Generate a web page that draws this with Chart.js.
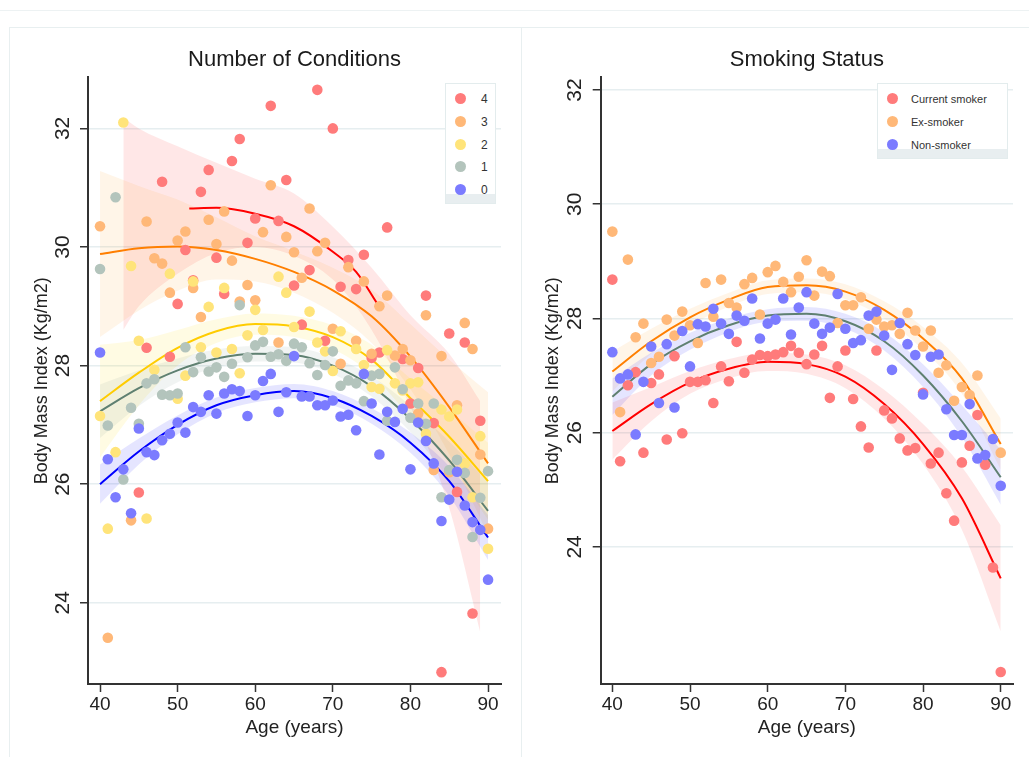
<!DOCTYPE html>
<html>
<head>
<meta charset="utf-8">
<script src="https://cdn.jsdelivr.net/npm/chart.js@4.4.1/dist/chart.umd.min.js"></script>
<style>
  body { margin: 0; background: #fff; font-family: "Liberation Sans", Arial, sans-serif; }
  #rule { position: absolute; left: 0; top: 10px; width: 1029px; border-top: 1px solid #edf2f3; }
  .panel { position: absolute; top: 27px; height: 760px; border: 1px solid #e8eff0; }
  .wrap { position: absolute; top: 28px; height: 729px; }
  .legend { position: absolute; background: #fff; border: 1px solid #e3eced; box-sizing: border-box; }
  .legend .strip { position: absolute; left: 0; right: 0; bottom: 0; height: 9px; background: #e8eef0; }
  .legend .item { position: absolute; left: 0; height: 14px; font-size: 12px; color: #333; line-height: 14px; }
  .legend .dot { position: absolute; width: 11px; height: 11px; border-radius: 50%; top: 1px; }
</style>
</head>
<body>
<div id="rule"></div>
<div class="panel" style="left:9px;width:511px;"></div>
<div class="panel" style="left:521px;width:520px;"></div>
<div class="wrap" style="left:10px;width:510px;"><canvas id="graficoCondicoes"></canvas></div>
<div class="wrap" style="left:522px;width:507px;"><canvas id="graficoFumo"></canvas></div>
<div id="legendaCondicoes" class="legend" style="left:445px;top:83px;width:51px;height:121px;"><div class="strip"></div></div>
<div id="legendaFumo" class="legend" style="left:877px;top:83px;width:131px;height:76px;"><div class="strip"></div></div>
<script>
// ---------- common axis values ----------
const idades = [40,41,42,43,44,45,46,47,48,49,50,51,52,53,54,55,56,57,58,59,60,61,62,63,64,65,
                66,67,68,69,70,71,72,73,74,75,76,77,78,79,80,81,82,83,84,85,86,87,88,89,90];
const idadesAjuste = [40,45,50,55,60,65,70,75,80,85,90];
const ticksX = [40,50,60,70,80,90];
const ticksY = [24,26,28,30,32];

// ---------- Number of Conditions ----------
const condicoes = ['0','1','2','3','4'];
const imc0 = [28.22,26.42,25.78,26.25,25.51,26.94,26.54,26.49,26.74,26.85,27.04,26.87,27.30,27.22,27.50,27.19,27.53,27.60,27.57,27.15,27.50,27.74,27.86,27.22,27.55,28.16,
              27.48,27.48,27.33,27.33,27.41,27.14,27.17,26.91,27.86,27.36,26.50,27.22,27.05,27.27,26.25,27.04,26.73,26.35,25.38,25.74,26.21,25.64,25.36,25.23,24.39];
const imc1 = [29.63,26.99,30.84,26.08,27.29,27.02,27.70,27.77,27.51,27.50,27.53,28.31,27.89,28.14,27.90,27.97,27.81,28.03,29.02,28.14,28.34,28.40,28.15,28.19,28.08,28.37,
              28.31,28.04,27.84,28.01,28.24,27.66,27.75,27.70,27.40,27.83,27.86,27.07,27.97,27.60,27.12,27.36,27.02,27.36,25.78,26.24,26.41,26.19,25.11,25.77,26.22];
const imc2 = [27.15,25.25,26.54,32.10,29.68,28.42,25.42,27.93,null,29.55,27.44,27.83,29.42,28.31,28.99,28.22,29.31,28.28,27.87,28.51,28.94,28.60,null,29.50,29.23,28.65,
              null,28.91,28.39,28.24,27.91,28.58,null,28.28,28.01,27.64,27.61,28.26,27.70,27.58,27.70,27.72,26.85,null,27.26,27.14,27.26,26.35,25.78,26.81,24.91];
const imc3 = [30.35,23.41,null,null,25.39,null,30.43,29.81,29.72,29.23,30.11,30.26,29.31,28.82,30.46,30.05,30.60,29.77,29.08,29.36,29.10,30.25,31.04,28.39,30.17,29.91,
              29.48,30.65,29.93,30.07,28.62,28.03,29.66,28.42,29.42,28.20,29.00,29.18,28.17,28.28,28.09,27.19,28.85,26.24,28.16,26.20,27.33,28.72,28.28,26.50,25.25];
const imc4 = [null,null,null,null,null,25.86,28.30,null,31.10,28.15,29.04,29.95,29.44,30.93,31.30,29.82,29.21,31.45,31.82,30.07,30.48,null,32.38,30.44,31.13,29.35,
              28.69,29.61,32.65,28.42,32.00,29.33,29.78,29.29,29.87,28.13,28.22,30.33,null,28.11,27.36,27.96,29.18,27.03,22.83,28.54,25.87,28.39,23.82,27.07,null];

const ajuste0 = [26.00,26.55,27.00,27.33,27.50,27.57,27.45,27.15,26.70,26.05,25.10];
const sup0    = [26.33,26.77,27.16,27.46,27.62,27.69,27.57,27.28,26.87,26.30,25.48];
const inf0    = [25.67,26.33,26.84,27.20,27.38,27.45,27.33,27.02,26.53,25.80,24.72];
const ajuste1 = [27.23,27.62,27.92,28.12,28.20,28.18,28.00,27.65,27.10,26.40,25.55];
const sup1    = [27.68,27.92,28.12,28.27,28.33,28.31,28.14,27.82,27.32,26.72,26.03];
const inf1    = [26.78,27.32,27.72,27.97,28.07,28.05,27.86,27.48,26.88,26.08,25.07];
const ajuste2 = [27.40,27.88,28.30,28.58,28.70,28.66,28.48,28.10,27.45,26.80,26.05];
const sup2    = [28.35,28.43,28.60,28.78,28.88,28.84,28.68,28.35,27.78,27.25,26.70];
const inf2    = [26.45,27.33,28.00,28.38,28.52,28.48,28.28,27.85,27.12,26.35,25.40];
const ajuste3 = [29.88,29.98,30.01,29.95,29.80,29.58,29.27,28.83,28.15,27.30,26.35];
const sup3    = [31.28,31.03,30.80,30.50,30.18,29.93,29.65,29.28,28.70,28.10,27.55];
const inf3    = [28.48,28.93,29.26,29.45,29.42,29.23,28.89,28.38,27.60,26.50,25.15];
const idadesBanda4 = [43,45,50,55,60,65,70,75,80,85,89];
const sup4    = [32.19,32.00,31.70,31.42,31.15,30.90,30.34,29.65,28.85,28.20,27.40];
const inf4    = [28.60,29.00,29.55,29.90,30.00,29.85,29.45,28.60,27.30,25.60,23.50];
const idadesAjuste4 = [51.5,55,60,65,70,73,76];
const ajuste4 = [30.65,30.66,30.56,30.35,29.92,29.58,28.99];

// ---------- Smoking Status ----------
const fumo = ['Current smoker','Ex-smoker','Non-smoker'];
const imcAtual = [28.68,25.50,26.83,27.06,25.65,26.87,27.02,25.88,27.34,25.99,26.89,26.89,26.92,26.52,27.16,26.90,27.59,27.05,27.28,27.36,27.34,27.37,27.41,27.52,27.40,27.20,
                  27.37,27.52,26.61,27.16,27.44,26.59,26.11,25.74,27.44,26.39,26.25,25.90,25.69,25.73,26.70,25.46,25.65,24.94,24.46,25.48,25.77,26.31,25.44,23.64,21.81];
const imcEx    = [29.52,26.36,29.03,27.67,27.91,27.22,27.33,27.98,27.70,28.12,27.88,27.57,28.62,28.03,28.68,28.27,28.19,28.60,28.71,28.07,28.81,28.92,28.64,28.46,28.73,29.02,
                  28.40,28.82,28.74,27.92,28.23,28.23,28.37,27.82,27.98,27.86,27.88,27.73,28.10,27.79,27.51,27.79,27.05,27.18,26.56,26.80,26.66,27.00,null,null,25.65];
const imcNunca = [27.41,26.95,27.02,25.97,26.89,27.51,26.52,27.55,26.44,27.78,27.16,27.90,27.86,28.17,27.91,27.73,28.05,27.96,28.35,27.65,27.91,27.98,28.35,27.72,28.19,28.46,
                  27.91,27.73,27.84,28.43,27.82,27.57,27.62,28.05,28.12,27.70,27.10,27.92,27.55,27.36,26.67,27.33,27.37,26.41,25.96,25.96,26.50,25.55,25.61,25.89,25.07];

const ajusteAtual = [26.03,26.50,26.88,27.12,27.24,27.20,26.98,26.50,25.80,24.85,23.45];
const supAtual    = [26.53,26.80,27.08,27.29,27.40,27.37,27.18,26.75,26.15,25.40,24.38];
const infAtual    = [25.53,26.20,26.68,26.95,27.08,27.03,26.78,26.25,25.45,24.30,22.52];
const ajusteEx    = [27.07,27.60,28.02,28.33,28.55,28.58,28.47,28.15,27.65,26.95,25.80];
const supEx       = [27.42,27.82,28.17,28.45,28.67,28.70,28.60,28.30,27.85,27.22,26.25];
const infEx       = [26.72,27.38,27.87,28.21,28.43,28.46,28.34,28.00,27.45,26.68,25.35];
const ajusteNunca = [26.63,27.20,27.60,27.88,28.05,28.08,27.95,27.60,27.00,26.20,25.22];
const supNunca    = [26.95,27.40,27.75,28.00,28.16,28.20,28.08,27.76,27.20,26.48,25.70];
const infNunca    = [26.31,27.00,27.45,27.76,27.94,27.96,27.82,27.44,26.80,25.92,24.74];

// ---------- colours ----------
const corPonto = { vermelho:'#ff7b7b', laranja:'#ffb878', amarelo:'#ffe47a', cinza:'#b3c4bc', azul:'#7b7bff' };
const corLinha = { vermelho:'#ff0000', laranja:'#ff7f00', amarelo:'#ffcc00', cinza:'#5f8071', azul:'#0000ff' };
const corBanda = { vermelho:'rgba(255,0,0,0.095)', laranja:'rgba(255,140,0,0.09)', amarelo:'rgba(255,220,0,0.11)',
                   cinza:'rgba(95,130,112,0.085)', azul:'rgba(0,0,255,0.10)' };
const FONTE = '"Liberation Sans", Arial, sans-serif';

function pontos(valores){
    return idades.map((a,i) => ({x:a, y:valores[i]})).filter(p => p.y !== null);
}
function curva(xs, ys){
    return xs.map((a,i) => ({x:a, y:ys[i]}));
}
function dsPontos(valores, cor, rotulo){
    return { type:'scatter', label:rotulo, data:pontos(valores), backgroundColor:cor, borderWidth:0,
             pointRadius:5.3, pointHoverRadius:5.3, order:1 };
}
function dsLinha(xs, ys, cor){
    return { type:'line', data:curva(xs,ys), borderColor:cor, borderWidth:2, pointRadius:0,
             tension:0.4, cubicInterpolationMode:'monotone', fill:false, order:2 };
}
function dsBanda(xs, sup, inf, cor){
    return [
        { type:'line', data:curva(xs,sup), borderWidth:0, borderColor:'rgba(0,0,0,0)', pointRadius:0,
          tension:0.4, cubicInterpolationMode:'monotone', fill:false, order:3 },
        { type:'line', data:curva(xs,inf), borderWidth:0, borderColor:'rgba(0,0,0,0)', pointRadius:0,
          tension:0.4, cubicInterpolationMode:'monotone', fill:'-1', backgroundColor:cor, order:3 }
    ];
}

function opcoes(titulo, xMin, xMax, yMin, yMax, largY, padY, padTituloY, padDir){
    return {
        responsive:true, maintainAspectRatio:false, animation:false, events:[],
        layout:{ padding:{ top:0, right:padDir, bottom:0, left:0 } },
        plugins:{
            legend:{ display:false }, tooltip:{ enabled:false },
            title:{ display:true, text:titulo, fullSize:false, color:'#1a1a1a',
                    font:{ family:FONTE, size:22, weight:'normal' }, padding:{ top:19, bottom:4 } }
        },
        scales:{
            x:{ type:'linear', min:xMin, max:xMax,
                afterBuildTicks: s => { s.ticks = ticksX.map(v => ({value:v})); },
                afterFit: s => { s.height = 73; },
                grid:{ drawOnChartArea:false, drawTicks:true, tickLength:8, tickColor:'#333', tickWidth:1.5 },
                border:{ display:true, color:'#333', width:2 },
                ticks:{ color:'#222', padding:1, font:{ family:FONTE, size:19 } },
                title:{ display:true, text:'Age (years)', color:'#222', font:{ family:FONTE, size:19 }, padding:{ top:0, bottom:18 } } },
            y:{ type:'linear', min:yMin, max:yMax,
                afterBuildTicks: s => { s.ticks = ticksY.map(v => ({value:v})); },
                afterFit: s => { s.width = largY; },
                grid:{ color:'#e6eef0', lineWidth:1.5, drawTicks:true, tickLength:8, tickColor:'#333', tickWidth:1.5 },
                border:{ display:true, color:'#333', width:2 },
                ticks:{ color:'#222', padding:padY, minRotation:90, maxRotation:90, crossAlign:'center',
                        font:{ family:FONTE, size:21 } },
                title:{ display:true, text:'Body Mass Index (Kg/m2)', color:'#222', font:{ family:FONTE, size:18 },
                        padding:{ top:padTituloY, bottom:0 } } }
        }
    };
}

Chart.defaults.font.family = FONTE;

//------- GRÁFICO NÚMERO DE CONDIÇÕES -------
const dadosCondicoes = { datasets: [
    dsPontos(imc0, corPonto.azul, condicoes[0]),
    dsPontos(imc1, corPonto.cinza, condicoes[1]),
    dsPontos(imc2, corPonto.amarelo, condicoes[2]),
    dsPontos(imc3, corPonto.laranja, condicoes[3]),
    dsPontos(imc4, corPonto.vermelho, condicoes[4]),
    dsLinha(idadesAjuste, ajuste0, corLinha.azul),
    dsLinha(idadesAjuste, ajuste1, corLinha.cinza),
    dsLinha(idadesAjuste, ajuste2, corLinha.amarelo),
    dsLinha(idadesAjuste, ajuste3, corLinha.laranja),
    dsLinha(idadesAjuste4, ajuste4, corLinha.vermelho),
    ...dsBanda(idadesAjuste, sup0, inf0, corBanda.azul),
    ...dsBanda(idadesAjuste, sup1, inf1, corBanda.cinza),
    ...dsBanda(idadesAjuste, sup2, inf2, corBanda.amarelo),
    ...dsBanda(idadesAjuste, sup3, inf3, corBanda.laranja),
    ...dsBanda(idadesBanda4, sup4, inf4, corBanda.vermelho)
]};
new Chart(document.getElementById('graficoCondicoes'), {
    type:'scatter', data:dadosCondicoes,
    options: opcoes('Number of Conditions', 38.45, 91.67, 22.63, 32.86, 78, 5, 21, 19)
});

//------- GRÁFICO SITUAÇÃO DE FUMO -------
const dadosFumo = { datasets: [
    dsPontos(imcNunca, corPonto.azul, fumo[2]),
    dsPontos(imcEx, corPonto.laranja, fumo[1]),
    dsPontos(imcAtual, corPonto.vermelho, fumo[0]),
    dsLinha(idadesAjuste, ajusteNunca, corLinha.cinza),
    dsLinha(idadesAjuste, ajusteEx, corLinha.laranja),
    dsLinha(idadesAjuste, ajusteAtual, corLinha.vermelho),
    ...dsBanda(idadesAjuste, supNunca, infNunca, corBanda.azul),
    ...dsBanda(idadesAjuste, supEx, infEx, corBanda.laranja),
    ...dsBanda(idadesAjuste, supAtual, infAtual, corBanda.vermelho)
]};
new Chart(document.getElementById('graficoFumo'), {
    type:'scatter', data:dadosFumo,
    options: opcoes('Smoking Status', 38.5, 91.58, 21.6, 32.22, 78.7, 6, 20, 16)
});

//------- LEGENDAS -------
function legenda(id, rotulos, cores, xTexto, fonte){
    const caixa = document.getElementById(id);
    rotulos.forEach((r,i) => {
        const item = document.createElement('div');
        item.className = 'item';
        item.style.top = (8 + i*22.8) + 'px';
        item.style.width = '100%';
        item.style.fontSize = fonte + 'px';
        const dot = document.createElement('span');
        dot.className = 'dot';
        dot.style.left = '9px';
        dot.style.background = cores[i];
        const txt = document.createElement('span');
        txt.style.position = 'absolute';
        txt.style.left = xTexto + 'px';
        txt.textContent = r;
        item.appendChild(dot); item.appendChild(txt);
        caixa.appendChild(item);
    });
}
legenda('legendaCondicoes', [condicoes[4],condicoes[3],condicoes[2],condicoes[1],condicoes[0]],
        [corPonto.vermelho, corPonto.laranja, corPonto.amarelo, corPonto.cinza, corPonto.azul], 35, 12);
legenda('legendaFumo', fumo, [corPonto.vermelho, corPonto.laranja, corPonto.azul], 33, 11);
</script>
</body>
</html>
